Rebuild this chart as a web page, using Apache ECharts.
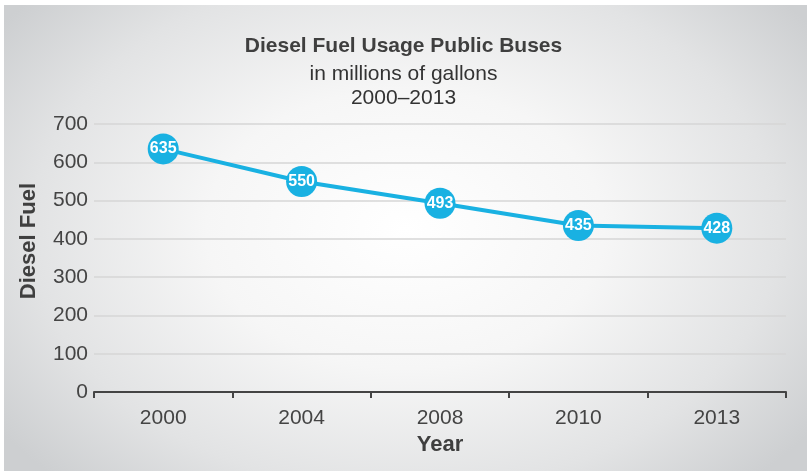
<!DOCTYPE html>
<html>
<head>
<meta charset="utf-8">
<script src="https://cdn.jsdelivr.net/npm/echarts@6/dist/echarts.min.js"></script>
<style>
  html, body { margin: 0; padding: 0; background: #ffffff; }
  #frame {
    position: absolute; left: 4px; top: 5px; width: 803px; height: 466px;
    background: radial-gradient(ellipse 62% 75% at 50% 48%, #ffffff 0%, #f6f6f6 40%, #e2e3e4 75%, #cdcfd1 100%);
  }
  #chart { position: absolute; left: -4px; top: -5px; width: 807px; height: 471px; }
</style>
</head>
<body>
<div id="frame"><div id="chart"></div></div>
<script>
// Diesel fuel used by public buses, millions of gallons
const years = ['2000', '2004', '2008', '2010', '2013'];
const dieselGallons = [635, 550, 493, 435, 428];
const yTicks = [0, 100, 200, 300, 400, 500, 600, 700];

const chart = echarts.init(document.getElementById('chart'), null, { renderer: 'canvas' });
const font = 'Liberation Sans, Arial, Helvetica, sans-serif';

chart.setOption({
  backgroundColor: 'transparent',
  animation: false,
  title: [
    { text: 'Diesel Fuel Usage Public Buses', left: 'center', top: 31,
      textStyle: { fontFamily: font, fontSize: 21, fontWeight: 'bold', color: '#3f3f3f' } },
    { text: 'in millions of gallons', left: 'center', top: 59,
      textStyle: { fontFamily: font, fontSize: 21, fontWeight: 'normal', color: '#333' } },
    { text: '2000\u20132013', left: 'center', top: 83,
      textStyle: { fontFamily: font, fontSize: 21, fontWeight: 'normal', color: '#333' } }
  ],
  graphic: [{
    type: 'text', left: 18, top: 183, rotation: Math.PI / 2,
    style: { text: 'Diesel Fuel', fontFamily: font, fontSize: 22, fontWeight: 'bold', fill: '#3f3f3f' }
  }],
  grid: { left: 94, right: 21, top: 124, bottom: 79 },
  xAxis: {
    type: 'category', data: years, boundaryGap: true,
    name: 'Year', nameLocation: 'middle', nameGap: 40,
    nameTextStyle: { fontFamily: font, fontSize: 22, fontWeight: 'bold', color: '#3f3f3f' },
    axisLine: { lineStyle: { color: '#444', width: 2 } },
    axisTick: { show: true, length: 6, lineStyle: { color: '#444', width: 2 } },
    axisLabel: { fontFamily: font, fontSize: 21, color: '#444', margin: 16 }
  },
  yAxis: {
    type: 'value', min: yTicks[0], max: yTicks[yTicks.length - 1], interval: 100,
    axisLine: { show: false }, axisTick: { show: false },
    axisLabel: { fontFamily: font, fontSize: 21, color: '#444', margin: 6 },
    splitLine: { lineStyle: { color: '#d6d6d6', width: 1.5 } }
  },
  series: [{
    type: 'line', data: dieselGallons,
    symbol: 'circle', symbolSize: 31,
    lineStyle: { color: '#19b1e2', width: 4 },
    itemStyle: { color: '#19b1e2' },
    label: {
      show: true, position: 'inside',
      fontFamily: font, fontSize: 16, fontWeight: 'bold', color: '#ffffff'
    }
  }]
});
</script>
</body>
</html>
